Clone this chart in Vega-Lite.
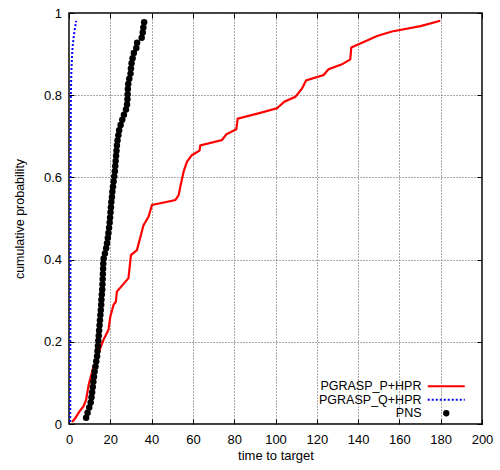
{
  "$schema": "https://vega.github.io/schema/vega-lite/v6.json",
  "width": 413,
  "height": 411,
  "autosize": {"type": "none"},
  "padding": {"left": 69, "top": 13, "right": 18, "bottom": 46},
  "config": {
    "font": "Liberation Sans",
    "view": {"stroke": "#000000", "strokeWidth": 1.5},
    "axis": {"labelFont": "Liberation Sans", "titleFont": "Liberation Sans", "labelFontSize": 13, "titleFontSize": 13, "labelColor": "#000", "titleColor": "#000", "titleFontWeight": "normal", "tickColor": "#000", "tickWidth": 1, "domain": false}
  },
  "datasets": {
    "pts": [
      {"series": "PGRASP_P+HPR", "t": 1.5, "p": 0.005},
      {"series": "PGRASP_P+HPR", "t": 3.0, "p": 0.014},
      {"series": "PGRASP_P+HPR", "t": 5.0, "p": 0.03},
      {"series": "PGRASP_P+HPR", "t": 7.0, "p": 0.043},
      {"series": "PGRASP_P+HPR", "t": 8.3, "p": 0.059},
      {"series": "PGRASP_P+HPR", "t": 9.5, "p": 0.095},
      {"series": "PGRASP_P+HPR", "t": 11.9, "p": 0.14},
      {"series": "PGRASP_P+HPR", "t": 13.5, "p": 0.156},
      {"series": "PGRASP_P+HPR", "t": 15.1, "p": 0.184},
      {"series": "PGRASP_P+HPR", "t": 16.7, "p": 0.205},
      {"series": "PGRASP_P+HPR", "t": 19.1, "p": 0.229},
      {"series": "PGRASP_P+HPR", "t": 20.0, "p": 0.261},
      {"series": "PGRASP_P+HPR", "t": 21.6, "p": 0.29},
      {"series": "PGRASP_P+HPR", "t": 22.7, "p": 0.298},
      {"series": "PGRASP_P+HPR", "t": 23.2, "p": 0.322},
      {"series": "PGRASP_P+HPR", "t": 28.8, "p": 0.355},
      {"series": "PGRASP_P+HPR", "t": 30.0, "p": 0.411},
      {"series": "PGRASP_P+HPR", "t": 32.9, "p": 0.423},
      {"series": "PGRASP_P+HPR", "t": 36.1, "p": 0.484},
      {"series": "PGRASP_P+HPR", "t": 38.5, "p": 0.504},
      {"series": "PGRASP_P+HPR", "t": 40.2, "p": 0.533},
      {"series": "PGRASP_P+HPR", "t": 44.2, "p": 0.537},
      {"series": "PGRASP_P+HPR", "t": 51.5, "p": 0.545},
      {"series": "PGRASP_P+HPR", "t": 53.1, "p": 0.557},
      {"series": "PGRASP_P+HPR", "t": 53.9, "p": 0.577},
      {"series": "PGRASP_P+HPR", "t": 55.5, "p": 0.614},
      {"series": "PGRASP_P+HPR", "t": 57.1, "p": 0.638},
      {"series": "PGRASP_P+HPR", "t": 59.5, "p": 0.654},
      {"series": "PGRASP_P+HPR", "t": 63.2, "p": 0.665},
      {"series": "PGRASP_P+HPR", "t": 63.6, "p": 0.678},
      {"series": "PGRASP_P+HPR", "t": 74.1, "p": 0.691},
      {"series": "PGRASP_P+HPR", "t": 76.2, "p": 0.705},
      {"series": "PGRASP_P+HPR", "t": 81.0, "p": 0.717},
      {"series": "PGRASP_P+HPR", "t": 81.7, "p": 0.743},
      {"series": "PGRASP_P+HPR", "t": 92.6, "p": 0.757},
      {"series": "PGRASP_P+HPR", "t": 100.7, "p": 0.768},
      {"series": "PGRASP_P+HPR", "t": 104.3, "p": 0.784},
      {"series": "PGRASP_P+HPR", "t": 109.6, "p": 0.796},
      {"series": "PGRASP_P+HPR", "t": 112.8, "p": 0.816},
      {"series": "PGRASP_P+HPR", "t": 114.8, "p": 0.836},
      {"series": "PGRASP_P+HPR", "t": 123.3, "p": 0.849},
      {"series": "PGRASP_P+HPR", "t": 125.7, "p": 0.863},
      {"series": "PGRASP_P+HPR", "t": 132.2, "p": 0.875},
      {"series": "PGRASP_P+HPR", "t": 136.2, "p": 0.887},
      {"series": "PGRASP_P+HPR", "t": 136.7, "p": 0.916},
      {"series": "PGRASP_P+HPR", "t": 141.1, "p": 0.926},
      {"series": "PGRASP_P+HPR", "t": 149.2, "p": 0.944},
      {"series": "PGRASP_P+HPR", "t": 156.4, "p": 0.955},
      {"series": "PGRASP_P+HPR", "t": 170.2, "p": 0.968},
      {"series": "PGRASP_P+HPR", "t": 179.8, "p": 0.981},
      {"series": "PGRASP_Q+HPR", "t": 0.6, "p": 0.005},
      {"series": "PGRASP_Q+HPR", "t": 0.65, "p": 0.2},
      {"series": "PGRASP_Q+HPR", "t": 0.7, "p": 0.5},
      {"series": "PGRASP_Q+HPR", "t": 0.8, "p": 0.7},
      {"series": "PGRASP_Q+HPR", "t": 0.9, "p": 0.8},
      {"series": "PGRASP_Q+HPR", "t": 1.1, "p": 0.85},
      {"series": "PGRASP_Q+HPR", "t": 1.5, "p": 0.9},
      {"series": "PGRASP_Q+HPR", "t": 1.9, "p": 0.926},
      {"series": "PGRASP_Q+HPR", "t": 2.7, "p": 0.958},
      {"series": "PGRASP_Q+HPR", "t": 3.5, "p": 0.981},
      {"series": "PNS", "t": 8.3, "p": 0.015},
      {"series": "PNS", "t": 9.0, "p": 0.0275},
      {"series": "PNS", "t": 9.8, "p": 0.04},
      {"series": "PNS", "t": 10.5, "p": 0.0525},
      {"series": "PNS", "t": 10.9, "p": 0.065},
      {"series": "PNS", "t": 11.2, "p": 0.0775},
      {"series": "PNS", "t": 11.5, "p": 0.09},
      {"series": "PNS", "t": 11.8, "p": 0.1025},
      {"series": "PNS", "t": 12.1, "p": 0.115},
      {"series": "PNS", "t": 12.4, "p": 0.1275},
      {"series": "PNS", "t": 12.8, "p": 0.14},
      {"series": "PNS", "t": 13.2, "p": 0.1525},
      {"series": "PNS", "t": 13.6, "p": 0.165},
      {"series": "PNS", "t": 13.8, "p": 0.1775},
      {"series": "PNS", "t": 14.0, "p": 0.19},
      {"series": "PNS", "t": 14.2, "p": 0.2025},
      {"series": "PNS", "t": 14.4, "p": 0.215},
      {"series": "PNS", "t": 14.6, "p": 0.2275},
      {"series": "PNS", "t": 14.8, "p": 0.24},
      {"series": "PNS", "t": 15.0, "p": 0.2525},
      {"series": "PNS", "t": 15.2, "p": 0.265},
      {"series": "PNS", "t": 15.4, "p": 0.2775},
      {"series": "PNS", "t": 15.6, "p": 0.29},
      {"series": "PNS", "t": 15.7, "p": 0.3025},
      {"series": "PNS", "t": 15.9, "p": 0.315},
      {"series": "PNS", "t": 16.1, "p": 0.3275},
      {"series": "PNS", "t": 16.2, "p": 0.34},
      {"series": "PNS", "t": 16.3, "p": 0.3525},
      {"series": "PNS", "t": 16.4, "p": 0.365},
      {"series": "PNS", "t": 16.5, "p": 0.3775},
      {"series": "PNS", "t": 16.6, "p": 0.39},
      {"series": "PNS", "t": 16.8, "p": 0.4025},
      {"series": "PNS", "t": 17.4, "p": 0.415},
      {"series": "PNS", "t": 18.0, "p": 0.4275},
      {"series": "PNS", "t": 18.4, "p": 0.44},
      {"series": "PNS", "t": 18.8, "p": 0.4525},
      {"series": "PNS", "t": 19.1, "p": 0.465},
      {"series": "PNS", "t": 19.4, "p": 0.4775},
      {"series": "PNS", "t": 19.7, "p": 0.49},
      {"series": "PNS", "t": 19.9, "p": 0.5025},
      {"series": "PNS", "t": 20.1, "p": 0.515},
      {"series": "PNS", "t": 20.3, "p": 0.5275},
      {"series": "PNS", "t": 20.5, "p": 0.54},
      {"series": "PNS", "t": 20.8, "p": 0.5525},
      {"series": "PNS", "t": 21.0, "p": 0.565},
      {"series": "PNS", "t": 21.3, "p": 0.5775},
      {"series": "PNS", "t": 21.6, "p": 0.59},
      {"series": "PNS", "t": 21.9, "p": 0.6025},
      {"series": "PNS", "t": 22.2, "p": 0.615},
      {"series": "PNS", "t": 22.4, "p": 0.6275},
      {"series": "PNS", "t": 22.6, "p": 0.64},
      {"series": "PNS", "t": 22.8, "p": 0.6525},
      {"series": "PNS", "t": 23.0, "p": 0.665},
      {"series": "PNS", "t": 23.2, "p": 0.6775},
      {"series": "PNS", "t": 23.5, "p": 0.69},
      {"series": "PNS", "t": 23.9, "p": 0.7025},
      {"series": "PNS", "t": 24.3, "p": 0.715},
      {"series": "PNS", "t": 25.0, "p": 0.7275},
      {"series": "PNS", "t": 25.8, "p": 0.74},
      {"series": "PNS", "t": 26.6, "p": 0.7525},
      {"series": "PNS", "t": 27.6, "p": 0.765},
      {"series": "PNS", "t": 28.1, "p": 0.7775},
      {"series": "PNS", "t": 28.3, "p": 0.79},
      {"series": "PNS", "t": 28.4, "p": 0.8025},
      {"series": "PNS", "t": 28.5, "p": 0.815},
      {"series": "PNS", "t": 28.7, "p": 0.8275},
      {"series": "PNS", "t": 29.2, "p": 0.84},
      {"series": "PNS", "t": 29.8, "p": 0.8525},
      {"series": "PNS", "t": 30.0, "p": 0.865},
      {"series": "PNS", "t": 30.3, "p": 0.8775},
      {"series": "PNS", "t": 30.8, "p": 0.89},
      {"series": "PNS", "t": 31.4, "p": 0.9025},
      {"series": "PNS", "t": 32.6, "p": 0.915},
      {"series": "PNS", "t": 33.0, "p": 0.9275},
      {"series": "PNS", "t": 35.2, "p": 0.94},
      {"series": "PNS", "t": 35.7, "p": 0.9525},
      {"series": "PNS", "t": 36.0, "p": 0.965},
      {"series": "PNS", "t": 36.4, "p": 0.9775}
    ]
  },
  "data": {"name": "pts"},
  "resolve": {"axis": {"x": "independent", "y": "independent"}},
  "layer": [
    {
      "transform": [{"filter": "datum.series === 'PGRASP_P+HPR'"}],
      "mark": {"type": "line", "strokeWidth": 2.2},
      "encoding": {
        "x": {"field": "t", "type": "quantitative", "scale": {"domain": [0, 200], "nice": false},
          "axis": {"orient": "bottom", "title": "time to target", "values": [0, 20, 40, 60, 80, 100, 120, 140, 160, 180, 200], "format": "d", "tickSize": -5, "labelPadding": 14, "titlePadding": 3, "grid": true, "gridColor": "#555", "gridDash": [1, 2], "gridWidth": 1, "labelFlush": false, "labelOverlap": false}},
        "y": {"field": "p", "type": "quantitative", "scale": {"domain": [0, 1], "nice": false},
          "axis": {"orient": "left", "title": "cumulative probability", "values": [0, 0.2, 0.4, 0.6, 0.8, 1], "format": "~g", "tickSize": -5, "labelPadding": 12.5, "titlePadding": 17, "grid": true, "gridColor": "#555", "gridDash": [1, 2], "gridWidth": 1, "labelFlush": false, "labelOverlap": false, "titleFontSize": 12.5}},
        "color": {"field": "series", "type": "nominal",
          "scale": {"domain": ["PGRASP_P+HPR", "PGRASP_Q+HPR", "PNS"], "range": ["#ff0000", "#0000ff", "#000000"]},
          "legend": {
            "title": null, "orient": "none", "legendX": 371, "legendY": 367,
            "labelFont": "Liberation Sans", "labelFontSize": 12.5, "labelColor": "#000",
            "labelAlign": "right", "labelOffset": -31, "symbolType": "stroke", "symbolSize": 100,
            "symbolStrokeWidth": 2, "rowPadding": 0.5, "padding": 0,
            "encode": {"symbols": {"update": {
              "shape": {"signal": "datum.value === 'PNS' ? 'circle' : 'stroke'"},
              "size": {"signal": "datum.value === 'PNS' ? 40 : 1369"},
              "strokeDash": {"signal": "datum.value === 'PGRASP_Q+HPR' ? [2, 2] : [1, 0]"},
              "fill": {"signal": "datum.value === 'PNS' ? '#000000' : 'transparent'"},
              "stroke": {"signal": "datum.value === 'PNS' ? 'transparent' : (datum.value === 'PGRASP_Q+HPR' ? '#0000ff' : '#ff0000')"},
              "strokeWidth": {"signal": "datum.value === 'PNS' ? 0 : 2.2"},
              "opacity": {"value": 1}
            }}}
          }}
      }
    },
    {
      "transform": [{"filter": "datum.series === 'PGRASP_Q+HPR'"}],
      "mark": {"type": "line", "strokeWidth": 2, "strokeDash": [2, 2]},
      "encoding": {
        "x": {"field": "t", "type": "quantitative", "axis": null},
        "y": {"field": "p", "type": "quantitative", "axis": null},
        "color": {"field": "series", "type": "nominal"}
      }
    },
    {
      "transform": [{"filter": "datum.series === 'PNS'"}],
      "mark": {"type": "circle", "size": 42, "opacity": 1},
      "encoding": {
        "x": {"field": "t", "type": "quantitative",
          "axis": {"orient": "top", "title": null, "labels": false, "grid": false, "values": [0, 20, 40, 60, 80, 100, 120, 140, 160, 180, 200], "tickSize": -5}},
        "y": {"field": "p", "type": "quantitative",
          "axis": {"orient": "right", "title": null, "labels": false, "grid": false, "values": [0, 0.2, 0.4, 0.6, 0.8, 1], "tickSize": -5}},
        "color": {"field": "series", "type": "nominal"}
      }
    }
  ]
}
